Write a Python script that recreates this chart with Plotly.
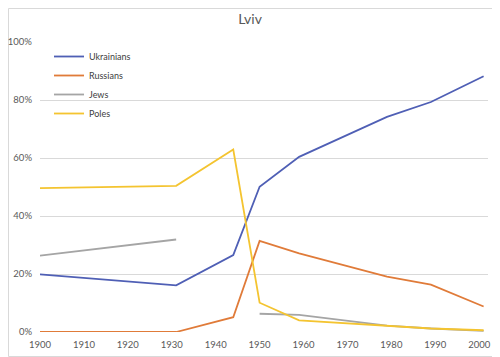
import plotly.graph_objects as go

years = [1900, 1931, 1944, 1950, 1959, 1979, 1989, 2001]
ukrainians = [19.9, 16.1, 26.5, 50.1, 60.4, 74.2, 79.3, 88.2]
russians = [0.0, 0.0, 5.1, 31.4, 27.1, 19.1, 16.3, 8.8]
jews = [26.3, 31.9, None, 6.3, 5.9, 2.2, 1.2, 0.4]
poles = [49.6, 50.4, 62.9, 10.1, 4.0, 2.0, 1.2, 0.6]

series = [
    ("Ukrainians", ukrainians, "#4F5FB5"),
    ("Russians", russians, "#E07B39"),
    ("Jews", jews, "#A5A5A5"),
    ("Poles", poles, "#F4C430"),
]

x_ticks = list(range(1900, 2001, 10))
y_ticks = [0, 0.2, 0.4, 0.6, 0.8, 1.0]

fig = go.Figure()
for name, vals, color in series:
    fig.add_trace(go.Scatter(
        x=years,
        y=[None if v is None else v / 100 for v in vals],
        mode="lines",
        name=name,
        line=dict(color=color, width=1.8),
        connectgaps=False,
    ))

# page body has an 8px default margin, so the figure is 8px smaller and offsets reduced
W, H = 492, 349
ML, MR, MT, MB = 32, 12, 34, 25
PW, PH = W - ML - MR, H - MT - MB

font_family = "Lato, 'Open Sans', sans-serif"
fig.update_layout(
    width=W, height=H,
    margin=dict(l=ML, r=MR, t=MT, b=MB, autoexpand=False),
    paper_bgcolor="white",
    plot_bgcolor="white",
    title=dict(text="Lviv", x=(250 - 8) / W, xanchor="center", y=1 - 11 / H, yanchor="middle",
               font=dict(family=font_family, size=14, color="#595959")),
    font=dict(family=font_family, size=10, color="#595959"),
    showlegend=True,
    legend=dict(x=9 / PW, y=1.0, xanchor="left", yanchor="top",
                bgcolor="rgba(0,0,0,0)", font=dict(size=9, color="#404040"),
                itemwidth=30, tracegroupgap=0),
    xaxis=dict(range=[1900, 2002], tickvals=x_ticks, ticktext=[str(t) for t in x_ticks],
               showgrid=False, zeroline=False, showline=False, ticks="",
               automargin=False,
               ticklabelstandoff=5, tickfont=dict(size=9.5, color="#595959")),
    yaxis=dict(range=[0, 1.0], tickvals=y_ticks, tickformat=".0%",
               showgrid=True, gridcolor="#D9D9D9", gridwidth=1, zeroline=False,
               showline=False, ticks="", ticklabelstandoff=7, automargin=False,
               tickfont=dict(size=9.5, color="#595959")),
)

# light chart border (right and bottom edges visible within the figure)
fig.add_shape(type="rect", xref="paper", yref="paper",
              x0=-(ML - 0.5) / PW, x1=(W - 0.5 - ML) / PW,
              y0=-(MB - 0.5) / PH, y1=1 + (MT - 0.5) / PH,
              line=dict(color="#D9D9D9", width=1), fillcolor="rgba(0,0,0,0)", layer="below")

fig.write_html("out.html")
